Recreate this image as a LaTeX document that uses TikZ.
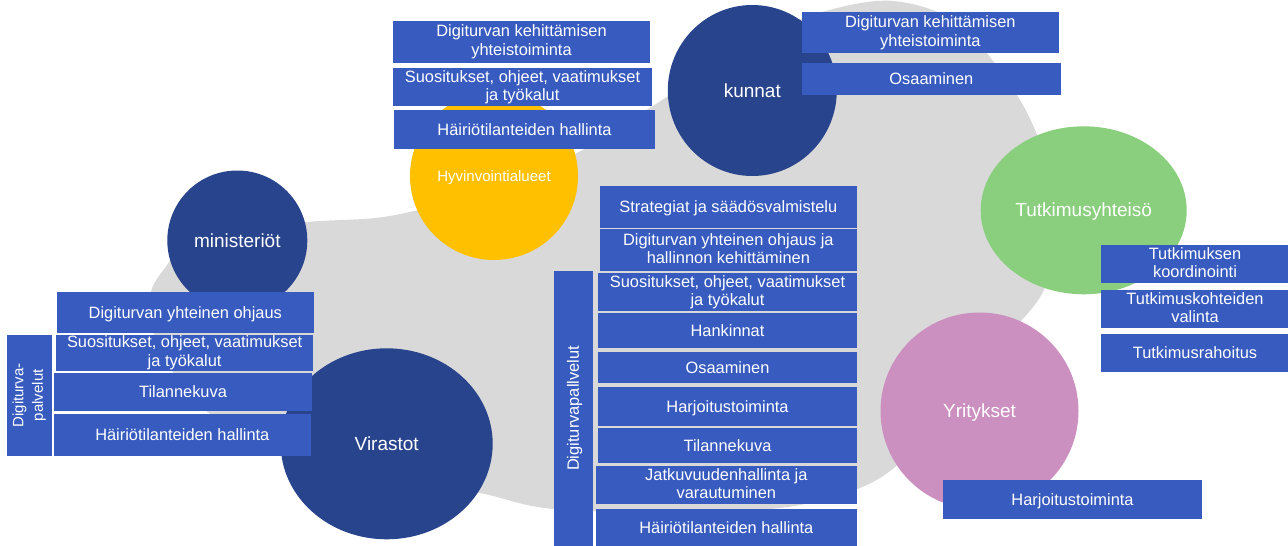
\documentclass[tikz,border=0pt]{standalone}
\usepackage{fontspec}
\setmainfont{Liberation Sans}
\usetikzlibrary{shapes.geometric}
\definecolor{boxblue}{RGB}{56,91,191}
\definecolor{navy}{RGB}{40,68,140}
\definecolor{yel}{RGB}{255,192,0}
\definecolor{grn}{RGB}{137,207,125}
\definecolor{pnk}{RGB}{203,144,192}
\definecolor{blob}{RGB}{217,217,217}
\newcommand\mystrut{\rule[-0.212em]{0pt}{1.117em}}
\tikzset{
  box/.style={fill=boxblue, text=white, inner sep=0pt, outer sep=0pt, align=center,
    font=\fontsize{16.4}{18.4}\selectfont,
    execute at begin node=\mystrut, execute at end node=\mystrut},
  orb/.style={ellipse, inner sep=0pt, outer sep=0pt, text=white,
    font=\fontsize{19}{21}\selectfont,
    execute at begin node=\mystrut},
}
\newcommand\mybox[6]{\node[box, minimum width={(#4-#2)*1pt}, minimum height={(#5-#3)*1pt}]
  (#1) at ({(#2+#4)/2},{(#3+#5)/2}) {#6};}
\begin{document}
\begin{tikzpicture}[x=1pt,y=-1pt]
\useasboundingbox (0,0) rectangle (1288,546);
% grey background blob
\fill[blob] plot[smooth cycle, tension=0.55] coordinates {
 (165,268) (200,234) (307,222) (390,216) (480,192) (577,153) (673,93) (760,38)
 (822,12) (893,1) (960,25) (1020,100) (1048,170) (1052,240) (1043,292) (1000,345)
 (940,420) (880,478) (800,505) (700,512) (554,509) (480,493) (380,475) (285,452)
 (205,410) (160,350) (150,298)};
% circles
\node[orb, fill=yel, minimum width=168pt, minimum height=168pt, font=\fontsize{15}{17}\selectfont] (hyv) at (494,176) {Hyvinvointialueet};
\node[orb, fill=navy, minimum width=169pt, minimum height=171pt] (kun) at (752.3,90.5) {kunnat};
\node[orb, fill=navy, minimum width=140pt, minimum height=140pt] (min) at (237.3,240.5) {ministeriöt};
\node[orb, fill=navy, minimum width=212pt, minimum height=191pt] (vir) at (386.7,443.8) {Virastot};
\node[orb, fill=grn, minimum width=206pt, minimum height=168pt] (tut) at (1083.7,210.3) {Tutkimusyhteisö};
\node[orb, fill=pnk, minimum width=198pt, minimum height=197pt] (yri) at (979.5,411) {Yritykset};
% top centre boxes
\mybox{tc1}{393}{21}{650}{62.7}{Digiturvan kehittämisen\\yhteistoiminta}
\mybox{tc2}{393}{68}{652}{106}{Suositukset, ohjeet, vaatimukset\\ja työkalut}
\mybox{tc3}{394}{110}{655}{148.7}{Häiriötilanteiden hallinta}
% top right boxes
\mybox{tr1}{802}{12}{1058.7}{53.3}{Digiturvan kehittämisen\\yhteistoiminta}
\mybox{tr2}{802}{63.3}{1060.7}{94.7}{Osaaminen}
% centre column
\mybox{c1}{600}{186}{856.7}{227.7}{Strategiat ja säädösvalmistelu}
\mybox{c2}{600}{229.3}{856.7}{270.7}{Digiturvan yhteinen ohjaus ja\\hallinnon kehittäminen}
\mybox{c3}{598.3}{273.3}{856.7}{310.7}{Suositukset, ohjeet, vaatimukset\\ja työkalut}
\mybox{c4}{598.3}{313.3}{856.7}{347.7}{Hankinnat}
\mybox{c5}{598.3}{351.7}{856.7}{383.3}{Osaaminen}
\mybox{c6}{598.3}{387.3}{856.7}{425.7}{Harjoitustoiminta}
\mybox{c7}{598.3}{428.3}{856.7}{462.7}{Tilannekuva}
\mybox{c8}{596}{466}{856.7}{504.3}{Jatkuvuudenhallinta ja\\varautuminen}
\mybox{c9}{596}{509.3}{856.7}{546}{Häiriötilanteiden hallinta}
\node[box, rotate=90, minimum width=275.3pt, minimum height=38.7pt] (ccol) at (573.3,408.4) {Digiturvapallvelut};
% left boxes
\mybox{l1}{56.7}{292}{314}{333.3}{Digiturvan yhteinen ohjaus}
\mybox{l2}{56}{335}{313.3}{370.7}{Suositukset, ohjeet, vaatimukset\\ja työkalut}
\mybox{l3}{54}{373.3}{312}{410.7}{Tilannekuva}
\mybox{l4}{54}{414}{310.7}{455.7}{Häiriötilanteiden hallinta}
\node[box, rotate=90, minimum width=120.7pt, minimum height=45pt, font=\fontsize{15}{19.5}\selectfont] (lcol) at (29.2,395.3) {Digiturva-\\palvelut};
% right boxes
\mybox{r1}{1101}{245}{1289}{283.3}{Tutkimuksen\\koordinointi}
\mybox{r2}{1101}{290}{1289}{328.3}{Tutkimuskohteiden\\valinta}
\mybox{r3}{1101}{334}{1289}{372.3}{Tutkimusrahoitus}
\mybox{r4}{943}{480}{1202}{519}{Harjoitustoiminta}
\end{tikzpicture}
\end{document}
